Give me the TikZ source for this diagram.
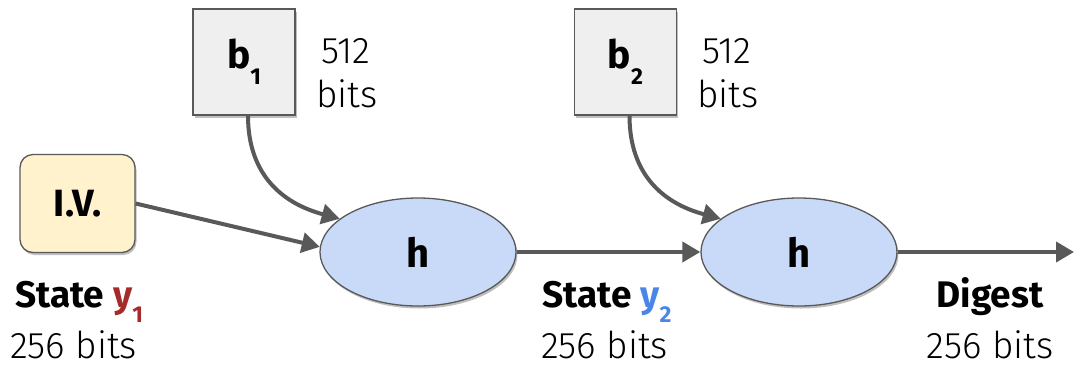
\documentclass[tikz,border=0pt]{standalone}
\usepackage{fontspec}
\setmainfont{Fira Sans}
\newfontfamily\firalight{Fira Sans Light}
\usetikzlibrary{arrows.meta,shapes.geometric,shadows}
\definecolor{edgegray}{HTML}{595959}
\definecolor{ivfill}{HTML}{FFF2CC}
\definecolor{boxfill}{HTML}{EFEFEF}
\definecolor{hfill}{HTML}{C9DAF8}
\definecolor{yred}{HTML}{A52A2A}
\definecolor{yblue}{HTML}{4A86E8}
\newcommand\subsc[1]{\raisebox{-0.42em}{\fontsize{23}{23}\selectfont #1}}
\tikzset{
  softshadow/.style={drop shadow={shadow xshift=1.5pt,shadow yshift=-2.5pt,opacity=0.25,fill=black}},
  ivbox/.style={draw=edgegray,line width=1.3pt,fill=ivfill,rounded corners=13pt,minimum width=115pt,minimum height=98pt,softshadow,font=\bfseries\fontsize{38}{40}\selectfont},
  blockbox/.style={draw=edgegray,line width=1.3pt,fill=boxfill,minimum width=102pt,minimum height=106pt,softshadow,font=\bfseries\fontsize{39}{40}\selectfont},
  hnode/.style={ellipse,draw=edgegray,line width=1.3pt,fill=hfill,minimum width=196pt,minimum height=108pt,inner sep=0pt,softshadow,font=\bfseries\fontsize{40}{42}\selectfont},
  conn/.style={draw=edgegray,line width=4pt,-{Triangle[length=18pt,width=20pt]}},
  boldlab/.style={anchor=base,inner sep=0pt,text depth=0pt,font=\bfseries\fontsize{37}{40}\selectfont},
  lightlab/.style={anchor=base,inner sep=0pt,text depth=0pt,font=\firalight\fontsize{37}{40}\selectfont},
}
\begin{document}
\begin{tikzpicture}[x=1pt,y=-1pt]
\useasboundingbox (0,0) rectangle (1074,365);
\node[ivbox] (iv) at (77.5,203.5) {I.V.};
\node[blockbox] (b1) at (244,62) {b\subsc{1}};
\node[blockbox] (b2) at (625.5,62) {b\subsc{2}};
\node[hnode] (h1) at (418,252) {h};
\node[hnode] (h2) at (799,252) {h};
\coordinate (out) at (1074,252);
\draw[conn] (iv.east) -- (h1.177);
\draw[conn] ([xshift=4pt]b1.south) to[out=-90,in=165,looseness=1.1] (h1.157);
\draw[conn] ([xshift=4pt]b2.south) to[out=-90,in=165,looseness=1.1] (h2.157);
\draw[conn] (h1.east) -- (h2.west);
\draw[conn] (h2.east) -- (out);
\node[boldlab] (s1) at (79,307) {State \textcolor{yred}{y\subsc{1}}};
\node[lightlab] (s1b) at (73.5,358) {256 bits};
\node[boldlab] (s2) at (607,307) {State \textcolor{yblue}{y\subsc{2}}};
\node[lightlab] (s2b) at (604.5,358) {256 bits};
\node[boldlab] (dg) at (990,307) {Digest};
\node[lightlab] (dgb) at (990,358) {256 bits};
\node[lightlab] (m1a) at (346,63) {512};
\node[lightlab] (m1b) at (347,107) {bits};
\node[lightlab] (m2a) at (727,63) {512};
\node[lightlab] (m2b) at (728,107) {bits};
\end{tikzpicture}
\end{document}
